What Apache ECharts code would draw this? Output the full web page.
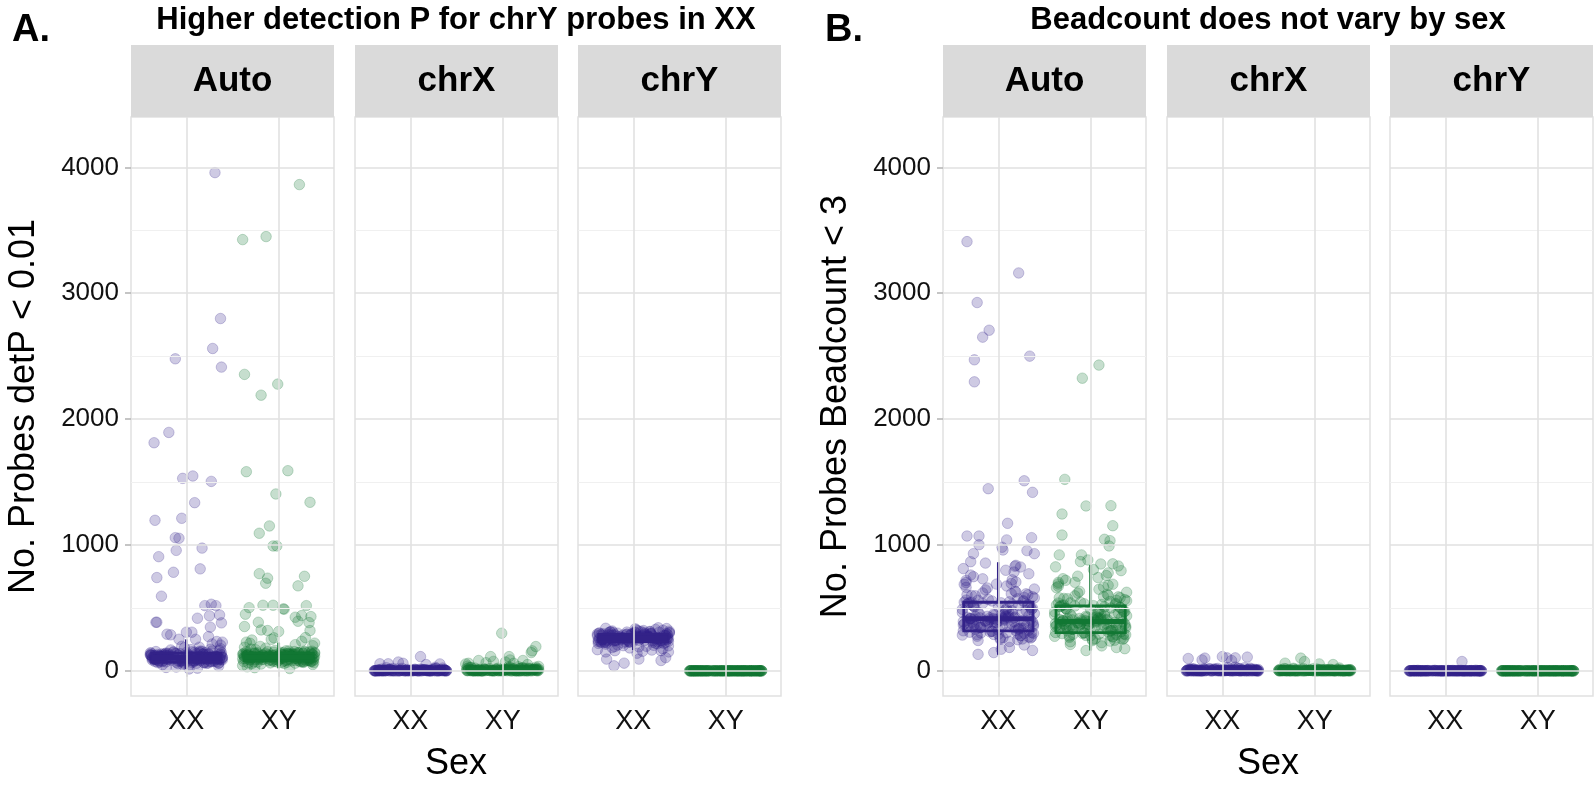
<!DOCTYPE html>
<html><head><meta charset="utf-8">
<script src="https://cdn.jsdelivr.net/npm/echarts@6/dist/echarts.min.js"></script>
<style>html,body{margin:0;padding:0;background:#fff}#c{width:1594px;height:787px}</style>
</head><body><div id="c"></div>
<script>
// ---------------- DATA ----------------
const categories = ['XX', 'XY'];
const facets = ['Auto', 'chrX', 'chrY'];
const titlesTop = ['Higher detection P for chrY probes in XX', 'Beadcount does not vary by sex'];
const tags = ['A.', 'B.'];
const yNames = ['No. Probes detP < 0.01', 'No. Probes Beadcount < 3'];
const xName = 'Sex';
const yTicks = [0, 1000, 2000, 3000, 4000];
const yMinor = [500, 1500, 2500, 3500];

// hand-placed horizontal jitter offsets (category units)
const JIT = [-0.31,0.12,0.37,-0.05,-0.22,0.28,0.03,-0.38,0.19,-0.14,0.33,-0.27,0.08,0.24,-0.35,-0.02,0.15,-0.19,0.39,-0.09,0.21,-0.33,0.05,0.30,-0.25,-0.12,0.35,0.00,-0.37,0.17,0.26,-0.07,-0.29,0.11,0.38,-0.17,0.06,-0.23,0.32,-0.04,-0.39,0.22,0.14,-0.30,0.02,0.27,-0.11,-0.20,0.36,0.09,-0.34,0.18,-0.26];

// Panel A: Auto
const aAutoXX = [112,86,134,95,71,158,103,122,64,147,91,118,79,131,99,56,142,108,87,125,
69,153,97,116,82,139,61,128,105,93,171,76,119,88,144,101,67,135,114,84,
126,59,149,96,110,73,137,90,163,81,121,102,48,130,94,117,77,141,106,85,
124,66,152,98,113,71,136,89,183,80,127,104,58,145,92,115,75,132,100,62,
120,86,155,97,109,70,138,91,166,83,123,107,52,143,95,111,78,129,102,68,
118,88,148,93,133,74,119,99,176,81,126,105,45,140,96,114,72,134,103,63,
122,87,157,94,108,79,131,90,169,84,117,101,38,146,97,112,76,137,106,60,
125,85,151,98,115,69,128,92,188,82,121,103,30,139,95,116,74,133,100,65,
21,205,195,27,214,15];
const aAutoXX_out = [[0.31,3958],[0.37,2799],[0.285,2561],[-0.12,2479],[0.38,2413],
[-0.19,1894],[-0.35,1812],[-0.04,1529],[0.07,1548],[0.27,1505],[0.09,1336],[-0.34,1196],[-0.05,1212],[-0.12,1058],[-0.08,1053],[0.17,975],[-0.11,957],[-0.30,907],[0.15,810],[-0.14,783],[-0.32,741],[-0.27,593],
[0.20,518],[0.27,529],[0.32,518],[-0.33,386],[-0.32,386],[0.36,444],[0.25,437],[0.12,418],[0.38,381],[0.26,347],[-0.21,291],[-0.17,286],[0.0,307],[0.06,307],[0.24,272],[0.10,251],[-0.08,251],[0.33,233],[0.39,228]];
const aAutoXY = [104,131,77,118,92,149,66,125,97,140,83,112,159,71,122,101,136,88,115,63,
145,94,127,80,109,152,73,119,98,133,86,124,57,141,105,90,128,69,116,162,
95,138,79,111,147,67,121,100,134,85,126,61,143,107,92,130,74,117,155,96,
139,82,113,150,70,123,102,137,87,129,54,146,108,93,132,76,119,168,99,142,
84,114,153,72,124,103,135,89,127,59,144,106,91,131,78,120,173,97,141,81,
110,156,68,125,101,138,86,128,50,148,109,94,133,75,118,180,96,136,83,115,
151,71,122,104,139,88,126,62,143,107,90,129,77,121,187,98,140,80,112,158,
65,123,102,134,85,127,43,145,110,92,132,74,117,194,100,137,32,208,25,219,18,200];
const aAutoXY_out = [[0.225,3863],[-0.39,3426],[-0.136,3450],[-0.37,2355],[-0.01,2278],[-0.19,2190],
[-0.35,1582],[0.10,1590],[-0.03,1405],[0.34,1339],[-0.10,1151],[-0.21,1093],[-0.06,992],[-0.02,992],[-0.21,772],[-0.12,736],[-0.14,696],[0.28,751],[0.21,675],
[-0.32,502],[-0.17,521],[-0.06,521],[0.05,492],[0.06,490],[0.30,518],[-0.36,450],[-0.37,352],[-0.22,386],[-0.19,325],[-0.12,320],[0.0,312],[0.18,426],[0.21,394],[0.25,439],[0.35,431],[0.33,383],[0.34,320],[0.29,264],[0.39,220],[-0.08,250],[0.25,235],[-0.29,245],[-0.05,262],[-0.35,228]];
// Panel A: chrX
const aChrXXX = [3,0,8,1,12,0,5,2,0,15,4,0,7,1,9,0,3,18,0,6,2,0,11,1,4,0,22,3,0,8,1,0,5,14,2,0,7,0,3,10,
1,0,6,2,0,17,4,0,9,1,0,3,25,0,5,2,0,12,1,6,0,4,0,8,2,0,13,1,0,7,3,0,20,0,5,1,0,10,2,0,
6,0,4,16,1,0,8,2,0,3,11,0,5,1,0,9,0,2,28,0,4,1,0,7,0,3,14,0,6,2,0,19,1,0,5,0,8,2,0,4,
0,2,9,0,1,6,0,3,12,0];
const aChrXXX_out = [[0.11,113],[-0.33,56],[-0.24,56],[-0.13,70],[-0.08,60],[0.17,50],[0.32,55]];
const aChrXXY = [0,6,14,2,0,21,9,3,0,17,5,1,28,0,11,4,0,8,35,2,13,0,6,19,1,0,10,3,24,0,7,15,2,0,12,5,31,0,8,1,
16,0,4,22,9,0,3,13,6,0,27,2,10,0,18,5,1,0,14,7,38,0,3,11,0,6,20,2,9,0,15,4,0,25,1,8,0,12,3,17,
0,6,33,0,10,2,14,0,5,19,1,0,9,4,23,0,7,13,2,0,11,29,0,5,16,3,0,8,1,21,0,12,6,0,18,2,9,0,14,4,
26,0,7,1,15,0,3,10,0,5];
const aChrXXY_out = [[-0.01,299],[0.32,159],[0.36,193],[0.31,145],[-0.13,113],[-0.26,82],[0.07,113],[0.08,87],[0.22,82],[-0.37,60],[-0.40,55],[-0.18,65],[-0.10,75],[0.03,70],[0.12,60],[0.27,50]];
// Panel A: chrY
const aChrYXX = [262,241,287,229,305,254,273,218,296,247,281,236,312,259,224,290,268,243,301,232,
277,251,318,239,285,263,226,294,256,272,215,308,245,283,234,299,267,249,322,228,
279,258,291,237,304,265,221,286,252,275,244,311,261,230,297,269,240,284,255,326,
233,292,264,246,303,271,219,288,257,278,238,315,250,227,295,266,242,309,260,281,
235,299,270,248,289,223,306,256,274,243,317,263,231,293,253,276,212,302,265,285,
239,296,258,247,313,268,226,291,251,279,236,307,262,244,298,273,218,287,255,329,
230,294,267,249,304,259,241,283,272,225,310,257,280,246,300,264,234,292,253,320,
198,205,190,185,175,182,168,203,195,338,334,342,200,192,336];
const aChrYXX_out = [[-0.21,40],[-0.10,61],[-0.29,93],[0.06,93],[0.30,82],[0.35,105],[0.04,140],[-0.30,150],[-0.20,160],[0.10,155],[0.30,160],[0.38,150],[0.20,165]];
const aChrYXY = [0,0,0,0,0,0,0,0,0,0,0,0,0,0,0,0,0,0,0,0,
0,0,0,0,0,0,0,0,0,0,0,0,0,0,0,0,0,0,0,0,
0,0,0,0,0,0,0,0,0,0,0,0,0,0,0,0,0,0,0,0,
0,0,0,0,0,0,0,0,0,0,0,0,0,0,0,0,0,0,0,0,
0,0,0,0,0,0,0,0,0,0,0,0,0,0,0,0,0,0,0,0,
0,0,0,0,0,0,0,0,0,0,0,0,0,0,0,0,0,0,0,0,
0,0,0,0,0,0,0,0,0,0];
const aChrYXY_out = [];

// Panel B: Auto
const bAutoXX = [413,352,498,289,561,376,442,318,627,395,268,517,431,340,702,384,455,301,579,422,
247,536,364,478,329,658,407,291,545,390,462,313,598,437,356,731,401,275,522,368,
489,336,612,418,259,551,383,447,305,674,426,342,507,371,233,589,414,466,297,540,
392,321,643,437,362,485,281,718,408,529,347,456,310,573,399,263,612,431,374,502,
326,687,419,253,555,387,471,298,536,410,359,604,444,284,519,378,761,402,338,567,
421,269,494,350,633,412,307,548,389,452,241,583,428,365,706,396,323,514,440,279,
562,381,477,344,650,405,292,531,418,357,596,433,261,508,372,785,399,315,545,423,
370,619,447,288,525,386,463,331,694,414,250,558,393,342,488,302,604,427,366,541,
186,162,145,131,205,172,812,838,856,771,748,799,825,663,689,723];
const bAutoXX_out = [[-0.34,3410],[0.22,3161],[-0.23,2926],[-0.10,2706],[-0.17,2651],[-0.26,2471],[-0.26,2296],[0.34,2500],
[-0.11,1447],[0.28,1510],[0.37,1418],[0.10,1172],[-0.34,1071],[-0.21,1071],[-0.21,1002],[0.09,1040],[0.36,1058],[0.04,982],[0.05,960],[0.31,955],[0.39,931],[-0.27,931],[-0.30,867],[0.18,831]];
const bAutoXY = [391,338,472,281,540,362,426,305,601,379,258,497,415,326,672,368,437,290,556,404,
236,514,350,459,316,631,391,279,523,374,443,301,575,420,342,703,386,266,502,355,
469,322,589,401,248,529,369,430,293,648,409,330,487,358,224,566,398,448,286,518,
377,310,618,420,349,466,271,690,392,508,334,437,298,551,383,254,588,414,360,482,
315,660,403,243,533,372,452,287,515,394,346,581,426,274,499,364,732,387,325,545,
405,259,474,338,609,396,296,527,373,434,231,560,411,352,679,381,311,494,423,268,
539,366,458,331,624,390,281,510,402,344,573,416,251,488,359,757,384,303,523,407,
355,596,430,277,505,371,444,319,666,398,240,536,378,329,468,291,580,410,352,520,
198,176,161,210,185,805,826,778,752,796,719,741,688,703];
const bAutoXY_out = [[0.09,2429],[-0.09,2325],
[-0.28,1521],[-0.31,1246],[-0.05,1310],[0.22,1312],[0.24,1153],[-0.31,1079],[0.15,1045],[0.21,1034],[0.20,992],[-0.34,921],[-0.10,921],[-0.11,868],[-0.03,881],[0.11,849],[0.24,850],[0.30,833]];
// Panel B: chrX
const bChrXXX = [2,0,9,4,0,13,1,6,0,18,3,0,7,2,11,0,5,1,0,15,8,0,3,21,0,6,2,0,10,4,0,14,1,7,0,3,26,0,9,2,
0,5,12,0,1,8,0,17,3,0,6,2,0,11,4,0,19,1,0,7,3,0,13,0,5,2,24,0,8,1,0,10,4,0,16,2,0,6,0,12,
3,0,20,1,0,7,2,0,9,5,0,14,1,0,4,30,0,8,2,0,11,3,0,6,1,0,15,0,5,2,0,9,4,0,18,1,0,7,3,0,
12,0,2,6,0,10,1,0,4,0];
const bChrXXX_out = [[-0.37,98],[-0.19,101],[0.0,113],[0.05,103],[0.14,103],[0.27,109],[-0.22,87],[0.10,82]];
const bChrXXY = [1,0,6,3,0,10,2,0,5,14,0,1,8,0,4,2,0,12,0,6,3,0,9,1,0,17,2,0,5,0,7,3,0,11,1,0,4,20,0,6,
2,0,8,0,13,1,0,3,0,9,5,0,2,15,0,1,7,0,4,0,10,2,0,6,1,0,12,3,0,5,0,8,2,0,18,1,0,4,0,7,
3,0,11,0,2,6,0,9,1,0,14,0,3,5,0,8,2,0,22,1,0,6,0,4,10,0,2,7,0,3,1,0,13,0,5,2,0,9,0,4,
0,16,1,0,6,2,0,3,8,0];
const bChrXXY_out = [[-0.15,101],[-0.11,74],[-0.32,61],[0.05,55],[0.20,50]];
// Panel B: chrY
const bChrYXX = [0,0,1,0,0,2,0,0,0,1,0,0,3,0,0,0,1,0,0,0,0,2,0,0,1,0,0,0,0,4,0,0,1,0,0,0,2,0,0,0,
0,1,0,0,0,0,3,0,0,1,0,0,0,0,2,0,0,0,1,0,0,0,0,5,0,0,1,0,0,0,2,0,0,0,0,1,0,0,3,0,
0,0,1,0,0,0,0,2,0,0,1,0,0,0,0,0,4,0,0,1,0,0,0,2,0,0,0,1,0,0,0,0,3,0,0,1,0,0,0,0,
2,0,0,1,0,0,0,0,1,0];
const bChrYXX_out = [[0.18,74]];
const bChrYXY = [0,0,0,0,0,0,0,0,0,0,0,0,0,0,0,0,0,0,0,0,
0,0,0,0,0,0,0,0,0,0,0,0,0,0,0,0,0,0,0,0,
0,0,0,0,0,0,0,0,0,0,0,0,0,0,0,0,0,0,0,0,
0,0,0,0,0,0,0,0,0,0,0,0,0,0,0,0,0,0,0,0,
0,0,0,0,0,0,0,0,0,0,0,0,0,0,0,0,0,0,0,0,
0,0,0,0,0,0,0,0,0,0,0,0,0,0,0,0,0,0,0,0,
0,0,0,0,0,0,0,0,0,0];
const bChrYXY_out = [];

// boxplot stats [low whisker, q1, median, q3, high whisker] for XX, XY
const aBoxAuto = [[15,70,105,140,250],[20,80,110,140,225]];
const aBoxChrX = [[0,0,4,10,25],[0,1,6,14,35]];
const aBoxChrY = [[165,232,260,290,345],[0,0,0,0,0]];
const bBoxAuto = [[127,317,413,545,863],[161,304,391,516,841]];
const bBoxChrX = [[0,1,5,12,30],[0,1,4,10,25]];
const bBoxChrY = [[0,0,0,1,3],[0,0,0,0,0]];

// ---------------- LAYOUT / STYLE ----------------
const FONT = '"Liberation Sans", Arial, Helvetica, sans-serif';
const COL = ['#332288', '#117733'];
const PT = ['rgba(51,34,136,0.24)', 'rgba(17,119,51,0.24)'];
const GRID_TOP = 117, GRID_H = 579, GRID_W = 203, STRIP_TOP = 45, STRIP_H = 72;
const LEFTS = [131, 355, 578, 943, 1167, 1390];

const panelData = [
  { cores: [aAutoXX, aAutoXY], outs: [aAutoXX_out, aAutoXY_out], box: aBoxAuto },
  { cores: [aChrXXX, aChrXXY], outs: [aChrXXX_out, aChrXXY_out], box: aBoxChrX },
  { cores: [aChrYXX, aChrYXY], outs: [aChrYXX_out, aChrYXY_out], box: aBoxChrY },
  { cores: [bAutoXX, bAutoXY], outs: [bAutoXX_out, bAutoXY_out], box: bBoxAuto },
  { cores: [bChrXXX, bChrXXY], outs: [bChrXXX_out, bChrXXY_out], box: bBoxChrX },
  { cores: [bChrYXX, bChrYXY], outs: [bChrYXX_out, bChrYXY_out], box: bBoxChrY }
];

function points(core, out, cat) {
  const r = [];
  core.forEach((v, i) => r.push([cat + JIT[i % JIT.length], v]));
  out.forEach(p => r.push([cat + p[0], p[1]]));
  return r;
}

const grids = [], xAxes = [], yAxes = [], series = [], graphics = [];

LEFTS.forEach((left, gi) => {
  const first = gi % 3 === 0;
  grids.push({ left: left, top: GRID_TOP, width: GRID_W, height: GRID_H, show: true,
    backgroundColor: '#fff', borderColor: '#e1e1e1', borderWidth: 1.5 });
  xAxes.push({ type: 'value', gridIndex: gi, min: 0.4, max: 2.6,
    axisLine: { show: false }, splitLine: { show: false },
    axisTick: { show: true, customValues: [1, 2], length: 6, lineStyle: { color: '#b3b3b3', width: 1.5 } },
    axisLabel: { customValues: [1, 2], formatter: v => categories[Math.round(v) - 1] || '',
      fontSize: 27, color: '#111', margin: 12, fontFamily: FONT } });
  yAxes.push({ type: 'value', gridIndex: gi, min: -200, max: 4400,
    axisLine: { show: false }, splitLine: { show: false },
    axisTick: { show: first, customValues: yTicks, length: 6, lineStyle: { color: '#b3b3b3', width: 1.5 } },
    axisLabel: { show: first, customValues: yTicks, formatter: v => String(v), fontSize: 26, color: '#111', margin: 12, fontFamily: FONT },
    name: first ? yNames[gi / 3] : '', nameLocation: 'middle', nameGap: 89, nameRotate: 90,
    nameTextStyle: { fontSize: 36, color: '#000', fontFamily: FONT } });

  // gridlines
  const ml = [];
  yMinor.forEach(v => ml.push({ yAxis: v, lineStyle: { color: '#f0f0f0', width: 1.2, type: 'solid' } }));
  yTicks.forEach(v => ml.push({ yAxis: v, lineStyle: { color: '#e1e1e1', width: 1.6, type: 'solid' } }));
  [1, 2].forEach(v => ml.push({ xAxis: v, lineStyle: { color: '#e1e1e1', width: 1.6, type: 'solid' } }));
  series.push({ type: 'scatter', xAxisIndex: gi, yAxisIndex: gi, data: [], z: 1, silent: true,
    markLine: { silent: true, symbol: ['none', 'none'], label: { show: false }, animation: false, data: ml } });

  const pd = panelData[gi];
  [0, 1].forEach(k => {
    series.push({ type: 'scatter', xAxisIndex: gi, yAxisIndex: gi, z: 2, silent: true,
      symbolSize: 10.5, data: points(pd.cores[k], pd.outs[k], k + 1),
      itemStyle: { color: PT[k], borderColor: PT[k], borderWidth: 1, opacity: 1 } });
  });
  series.push({ type: 'custom', xAxisIndex: gi, yAxisIndex: gi, z: 3, silent: true,
    data: pd.box.map((s, k) => [k + 1].concat(s)),
    encode: { x: 0, y: [1, 2, 3, 4, 5] },
    renderItem: function (params, api) {
      const x = api.value(0);
      const c = COL[Math.round(x) - 1];
      const lo = api.coord([x, api.value(1)]), q1 = api.coord([x, api.value(2)]),
        md = api.coord([x, api.value(3)]), q3 = api.coord([x, api.value(4)]), hi = api.coord([x, api.value(5)]);
      const w = api.size([0.75, 0])[0];
      const st = { stroke: c, lineWidth: 2.8, fill: null };
      return { type: 'group', children: [
        { type: 'line', shape: { x1: hi[0], y1: hi[1], x2: q3[0], y2: q3[1] }, style: st },
        { type: 'line', shape: { x1: q1[0], y1: q1[1], x2: lo[0], y2: lo[1] }, style: st },
        { type: 'rect', shape: { x: q1[0] - w / 2, y: q3[1], width: w, height: q1[1] - q3[1] }, style: { stroke: c, lineWidth: 2.8, fill: 'none' } },
        { type: 'line', shape: { x1: md[0] - w / 2, y1: md[1], x2: md[0] + w / 2, y2: md[1] }, style: { stroke: c, lineWidth: 5 } }
      ] };
    } });

  // strip
  graphics.push({ type: 'rect', x: left, y: STRIP_TOP, shape: { width: GRID_W, height: STRIP_H }, style: { fill: '#dadada' } });
  graphics.push({ type: 'text', x: left + GRID_W / 2, y: STRIP_TOP + STRIP_H / 2,
    style: { text: facets[gi % 3], fontSize: 35, fontWeight: 'bold', fill: '#000', align: 'center', verticalAlign: 'middle', fontFamily: FONT } });
});

[0, 1].forEach(p => {
  const l = LEFTS[p * 3], r = LEFTS[p * 3 + 2] + GRID_W, cx = (l + r) / 2;
  graphics.push({ type: 'text', x: cx, y: 20, style: { text: titlesTop[p], fontSize: 31, fontWeight: 'bold', fill: '#000', align: 'center', verticalAlign: 'middle', fontFamily: FONT } });
  graphics.push({ type: 'text', x: cx, y: 764, style: { text: xName, fontSize: 36, fill: '#000', align: 'center', verticalAlign: 'middle', fontFamily: FONT } });
});
graphics.push({ type: 'text', x: 12, y: 31, style: { text: tags[0], fontSize: 38, fontWeight: 'bold', fill: '#000', align: 'left', verticalAlign: 'middle', fontFamily: FONT } });
graphics.push({ type: 'text', x: 825, y: 31, style: { text: tags[1], fontSize: 38, fontWeight: 'bold', fill: '#000', align: 'left', verticalAlign: 'middle', fontFamily: FONT } });

const chart = echarts.init(document.getElementById('c'), null, { renderer: 'canvas' });
chart.setOption({
  backgroundColor: '#fff',
  animation: false,
  grid: grids, xAxis: xAxes, yAxis: yAxes, series: series,
  graphic: { elements: graphics }
});
</script></body></html>
